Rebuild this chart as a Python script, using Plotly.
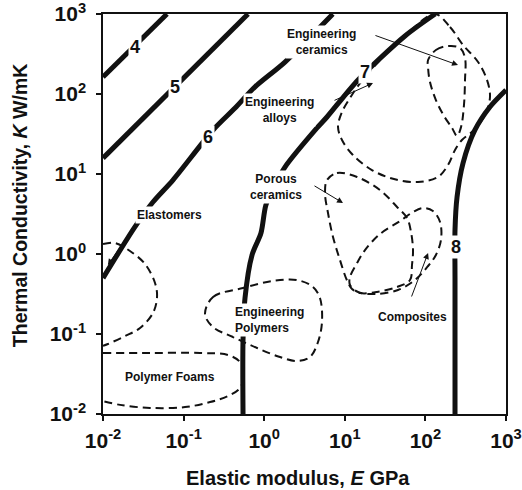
import numpy as np
import plotly.graph_objects as go

# ---- Index contours: elastic modulus E (GPa) vs thermal conductivity K (W/mK) ----
idx4_E = [0.01, 0.0622]
idx4_K = [163, 1000]

idx5_E = [0.01, 0.63]
idx5_K = [15.8, 1000]

idx6_E = [0.01, 0.0249, 0.0417, 0.0738, 0.232, 0.435, 0.77, 1.81, 7.1]
idx6_K = [0.5, 2.18, 4.47, 8.41, 35.5, 66.8, 123, 251, 1000]

idx7_E = [0.546, 0.546, 0.578, 0.706, 0.912, 1.05, 1.36, 1.81, 4.52, 6.01, 14.6, 55.8, 132]
idx7_K = [0.01, 0.084, 0.282, 0.97, 1.83, 4.1, 7.3, 12.2, 37.6, 51.6, 150, 531, 1000]

idx8_E = [233, 233, 233, 247, 293, 412, 631, 1000]
idx8_K = [0.01, 0.5, 2.0, 5.16, 13.7, 35.5, 68.8, 112]

contour_names = ["4", "5", "6", "7", "8"]
contour_label_E = [0.0249, 0.0782, 0.201, 17.8, 240]
contour_label_K = [387, 122, 29, 188, 1.22]

# ---- Material-class envelopes ----
elastomers_E = [0.01, 0.0141, 0.0216, 0.0332, 0.0442, 0.0468, 0.0417, 0.0288, 0.0187, 0.0115, 0.01]
elastomers_K = [1.33, 1.37, 1.09, 0.75, 0.434, 0.29, 0.183, 0.119, 0.094, 0.075, 0.071]

foams_E = [0.01, 0.0383, 0.16, 0.356, 0.50, 0.561, 0.50, 0.356, 0.213, 0.104, 0.0383, 0.0163, 0.01]
foams_K = [0.0579, 0.0579, 0.0579, 0.0546, 0.0447, 0.0307, 0.0211, 0.0168, 0.0141, 0.0122, 0.0119, 0.013, 0.0145]

polymers_E = [0.1845, 0.232, 0.546, 1.285, 2.55, 4.03, 4.92, 5.21, 4.65, 3.70, 2.55, 1.57, 0.815, 0.41, 0.232, 0.1845]
polymers_K = [0.178, 0.290, 0.376, 0.46, 0.473, 0.387, 0.282, 0.141, 0.0794, 0.0516, 0.046, 0.0516, 0.0668, 0.0917, 0.122, 0.178]

alloys_E = [131, 202, 293, 450, 581, 633, 548, 401, 284, 233, 191, 143, 80.9, 40.7, 21.7,
            12.6, 9.23, 8.24, 9.23, 11.6, 14.6, 27.4, 55.8, 131]
alloys_K = [1000, 688, 410, 251, 150, 91.7, 54.6, 35.5, 26.6, 20, 12.95, 9.17, 7.94, 8.66, 11.2,
            17.3, 26.6, 38.7, 59.6, 89.1, 126, 266, 531, 1000]

ceramics_E = [108, 135, 191, 269, 310, 310, 301, 277, 247, 214, 170, 135, 114, 108, 108]
ceramics_K = [266, 355, 398, 376, 282, 150, 72.9, 38.7, 29.9, 37.6, 53.1, 84.1, 141, 211, 266]

porous_E = [6.01, 8.0, 14.2, 27.3, 44.5, 59.2, 66.3, 70.2, 68.2, 64.4, 44.5, 25.1, 15.5, 12.3,
            10.6, 8.71, 7.14, 6.19, 5.68, 6.01]
porous_K = [8.41, 10.3, 9.17, 6.31, 3.87, 2.82, 1.88, 1.12, 0.729, 0.473, 0.387, 0.335, 0.325, 0.365,
            0.473, 0.841, 1.63, 3.25, 5.79, 8.41]

composites_E = [11.6, 14.2, 17.8, 27.4, 48.4, 70.2, 93.4, 124, 152, 156, 135, 108, 74.3, 45.7, 23.7, 14.6, 11.6, 11.6]
composites_K = [0.516, 0.772, 1.12, 1.78, 2.58, 3.35, 3.76, 3.45, 2.51, 1.50, 0.972, 0.708, 0.473, 0.355, 0.316, 0.335, 0.41, 0.516]

# ---- Class labels and pointer arrows ----
class_labels = ["Engineering<br>ceramics", "Engineering<br>alloys", "Porous<br>ceramics",
                "Elastomers", "Polymer Foams", "Composites"]
class_label_E = [5.21, 1.57, 1.40, 0.0659, 0.0678, 68.2]
class_label_K = [447, 63.1, 6.88, 3.07, 0.029, 0.163]

eng_polymers_label = "Engineering<br>Polymers"
eng_polymers_E = 0.41
eng_polymers_K = 0.15

arrow_tail_E = [23.0, 7.14, 4.03, 0.0264, 66.3]
arrow_tail_K = [547, 81.7, 7.29, 2.44, 0.282]
arrow_head_E = [254, 22.4, 9.51, 0.0115, 108]
arrow_head_K = [230, 137, 4.34, 0.73, 1.03]

x_tick_vals = [0.01, 0.1, 1, 10, 100, 1000]
x_tick_text = ["10<sup>-2</sup>", "10<sup>-1</sup>", "10<sup>0</sup>", "10<sup>1</sup>", "10<sup>2</sup>", "10<sup>3</sup>"]
y_tick_vals = [0.01, 0.1, 1, 10, 100, 1000]
y_tick_text = x_tick_text

FONT = "Liberation Sans, Arial, Helvetica, sans-serif"
INK = "#111111"

fig = go.Figure()

dash_style = dict(color=INK, width=2, dash="8px,5px")
for E, K in [(elastomers_E, elastomers_K), (foams_E, foams_K), (polymers_E, polymers_K),
             (alloys_E, alloys_K), (ceramics_E, ceramics_K), (porous_E, porous_K),
             (composites_E, composites_K)]:
    fig.add_trace(go.Scatter(x=E, y=K, mode="lines", line=dict(shape="spline", smoothing=1, **dash_style),
                             hoverinfo="skip"))

for E, K in [(idx4_E, idx4_K), (idx5_E, idx5_K), (idx6_E, idx6_K), (idx7_E, idx7_K), (idx8_E, idx8_K)]:
    fig.add_trace(go.Scatter(x=E, y=K, mode="lines",
                             line=dict(color=INK, width=5, shape="spline", smoothing=0.8),
                             hoverinfo="skip"))

annotations = []
# contour index numbers, boxed in white so they break the lines
for name, E, K in zip(contour_names, contour_label_E, contour_label_K):
    annotations.append(dict(x=np.log10(E), y=np.log10(K), xref="x", yref="y", text="<b>%s</b>" % name,
                            showarrow=False, bgcolor="white", borderpad=1,
                            font=dict(family=FONT, size=18, color=INK)))

for txt, E, K in zip(class_labels, class_label_E, class_label_K):
    annotations.append(dict(x=np.log10(E), y=np.log10(K), xref="x", yref="y", text="<b>%s</b>" % txt,
                            showarrow=False, bgcolor="white", borderpad=1, align="center",
                            font=dict(family=FONT, size=12, color=INK)))

annotations.append(dict(x=np.log10(eng_polymers_E), y=np.log10(eng_polymers_K), xref="x", yref="y",
                        text="<b>%s</b>" % eng_polymers_label, showarrow=False, bgcolor="white",
                        borderpad=1, align="left", xanchor="left",
                        font=dict(family=FONT, size=12, color=INK)))

for tE, tK, hE, hK in zip(arrow_tail_E, arrow_tail_K, arrow_head_E, arrow_head_K):
    annotations.append(dict(x=np.log10(hE), y=np.log10(hK), ax=np.log10(tE), ay=np.log10(tK),
                            xref="x", yref="y", axref="x", ayref="y", text="", showarrow=True,
                            arrowhead=2, arrowsize=1.2, arrowwidth=1, arrowcolor=INK))

# axis titles
annotations.append(dict(x=0.485, y=-0.16, xref="paper", yref="paper", showarrow=False,
                        xanchor="center", yanchor="middle",
                        text="<b>Elastic modulus, <i>E</i> GPa</b>",
                        font=dict(family=FONT, size=20, color=INK)))
annotations.append(dict(x=-0.206, y=0.522, xref="paper", yref="paper", showarrow=False, textangle=-90,
                        xanchor="center", yanchor="middle",
                        text="<b>Thermal Conductivity, <i>K</i> W/mK</b>",
                        font=dict(family=FONT, size=19.5, color=INK)))

axis_common = dict(type="log", range=[-2, 3], showgrid=False, zeroline=False, showline=True,
                   linecolor=INK, linewidth=1.5, mirror=True, ticks="outside", ticklen=5,
                   tickwidth=1.5, tickcolor=INK, automargin=False, ticklabeloverflow="allow",
                   tickfont=dict(family=FONT, size=21, color=INK))

fig.update_layout(
    width=522, height=490,
    margin=dict(l=103, r=16, t=14, b=76, autoexpand=False),
    paper_bgcolor="white", plot_bgcolor="white",
    showlegend=False,
    xaxis=dict(tickvals=x_tick_vals, ticktext=["<b>%s</b>" % t for t in x_tick_text],
               ticklabelstandoff=2, **axis_common),
    yaxis=dict(tickvals=y_tick_vals, ticktext=["<b>%s</b>" % t for t in y_tick_text],
               ticklabelstandoff=6, **axis_common),
    annotations=annotations,
)

fig.write_html("out.html")
